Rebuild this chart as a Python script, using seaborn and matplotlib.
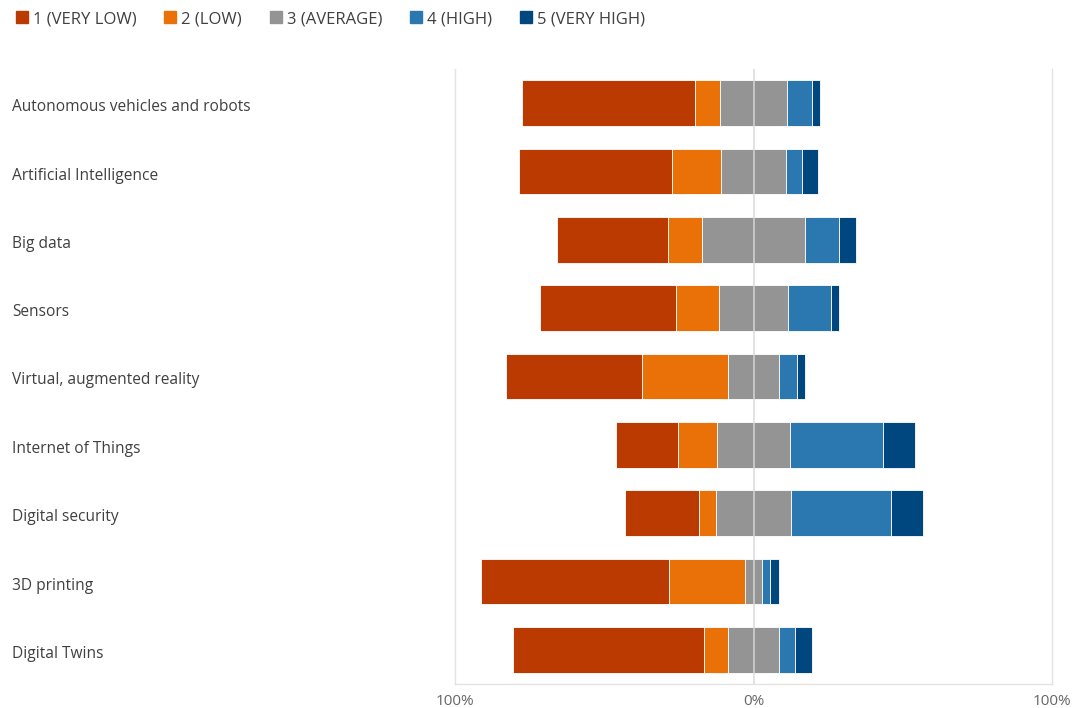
import matplotlib
matplotlib.use("Agg")
import matplotlib.pyplot as plt
import matplotlib.transforms as mtransforms
import seaborn as sns
import pandas as pd
import numpy as np
from matplotlib.lines import Line2D

categories = [
    "Autonomous vehicles and robots",
    "Artificial Intelligence",
    "Big data",
    "Sensors",
    "Virtual, augmented reality",
    "Internet of Things",
    "Digital security",
    "3D printing",
    "Digital Twins",
]
levels = ["1 (VERY LOW)", "2 (LOW)", "3 (AVERAGE)", "4 (HIGH)", "5 (VERY HIGH)"]
very_low = [57.9, 51.2, 37.1, 45.5, 45.5, 21.0, 24.7, 63.2, 63.9]
low = [8.4, 16.4, 11.4, 14.4, 28.8, 13.0, 5.7, 25.4, 8.0]
average = [22.4, 21.7, 34.4, 23.1, 17.0, 24.4, 25.1, 5.7, 17.1]
high = [8.4, 5.4, 11.4, 14.4, 6.0, 31.1, 33.4, 2.7, 5.4]
very_high = [2.7, 5.4, 5.7, 2.7, 2.7, 10.7, 11.0, 3.0, 5.7]
tick_values = [-100, 0, 100]
tick_labels = ["100%", "0%", "100%"]
colors = ["#BA3A02", "#E97108", "#949494", "#2B78B0", "#00467F"]

series = [very_low, low, average, high, very_high]

sns.set_theme(style="white")
plt.rcParams["font.family"] = ["Open Sans", "DejaVu Sans"]

fig = plt.figure(figsize=(10.75, 7.08), dpi=100)
ax = fig.add_axes([455 / 1075, 24 / 708, 597 / 1075, 615 / 708])

arr = np.array(series)
start = -(arr[0] + arr[1] + arr[2] / 2.0)
for i, (lvl, vals) in enumerate(zip(levels, series)):
    df = pd.DataFrame({"category": categories, "value": vals})
    sns.barplot(
        data=df, x="value", y="category", orient="h",
        color=colors[i], width=0.67, ax=ax,
        left=start.copy(), edgecolor="#ffffff", linewidth=0.6,
        saturation=1, zorder=2,
    )
    start = start + np.array(vals)

ax.set_xlim(-100, 100)
ax.set_ylim(len(categories) - 0.5, -0.5)
ax.set_xlabel("")
ax.set_ylabel("")
ax.set_xticks(tick_values)
ax.set_xticklabels(tick_labels, color="#666666", fontsize=11)
ax.tick_params(axis="x", length=0, pad=7)
ax.tick_params(axis="y", length=0, pad=(455 - 12) * 72 / 100)
ax.axvline(0, color="#d9d9d9", lw=1.3, zorder=3, alpha=0.8)

shift = mtransforms.ScaledTranslation(0, -2.0 / 100, fig.dpi_scale_trans)
for lab in ax.get_yticklabels():
    lab.set_horizontalalignment("left")
    lab.set_color("#404040")
    lab.set_fontsize(11.2)
    lab.set_transform(lab.get_transform() + shift)

for s in ["left", "right", "bottom"]:
    ax.spines[s].set_visible(True)
    ax.spines[s].set_color("#e3e3e3")
    ax.spines[s].set_linewidth(1.0)
ax.spines["top"].set_visible(False)

handles = [Line2D([0], [0], marker="s", linestyle="none", markersize=8,
                  markerfacecolor=c, markeredgecolor=c) for c in colors]
leg = fig.legend(handles, levels, loc="center left", bbox_to_anchor=(0.014, 1 - 19 / 708),
                 ncol=5, frameon=False, fontsize=12, handlelength=0.8,
                 handletextpad=0.25, columnspacing=1.65, borderaxespad=0,
                 borderpad=0)
for t in leg.get_texts():
    t.set_color("#404040")

fig.savefig("out.png", dpi=100)
